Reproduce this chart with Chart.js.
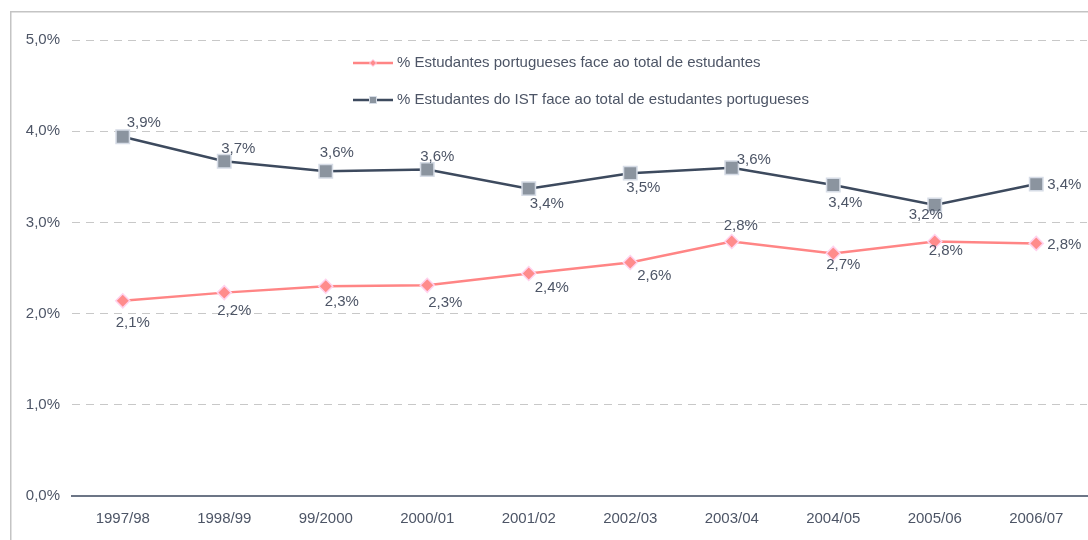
<!DOCTYPE html>
<html>
<head>
<meta charset="utf-8">
<script src="https://cdn.jsdelivr.net/npm/chart.js@4.4.0/dist/chart.umd.min.js"></script>
<style>
  html, body { margin: 0; padding: 0; background: #fff; overflow: hidden; }
  canvas { display: block; }
</style>
</head>
<body>
<canvas id="c" width="1088" height="540"></canvas>
<script>
const categories = ['1997/98', '1998/99', '99/2000', '2000/01', '2001/02', '2002/03', '2003/04', '2004/05', '2005/06', '2006/07'];
const seriesPT = [2.14, 2.23, 2.30, 2.31, 2.44, 2.56, 2.79, 2.66, 2.79, 2.77];
const seriesIST = [3.94, 3.67, 3.56, 3.58, 3.37, 3.54, 3.60, 3.41, 3.19, 3.42];
const seriesNames = ['% Estudantes portugueses face ao total de estudantes', '% Estudantes do IST face ao total de estudantes portugueses'];
const yTicks = [0, 1, 2, 3, 4, 5];

// label placement offsets (dx, dy) from each point
const labelOffsetsPT = [[10,22],[10,18],[16,16],[18,18],[23,14],[24,13],[9,-16],[10,11],[11,9],[28,1]];
const labelOffsetsIST = [[21,-14],[14,-12],[11,-18],[10,-13],[18,15],[13,15],[22,-8],[12,18],[-9,10],[28,1]];

const fmt = v => v.toFixed(1).replace('.', ',') + '%';
const FONT = '"Liberation Sans", Arial, sans-serif';
const TXT = '#4d5566';
const FS = 15;

const framePlugin = {
  id: 'frame',
  beforeDraw(chart) {
    const ctx = chart.ctx;
    ctx.save();
    ctx.strokeStyle = '#c4c4c4';
    ctx.lineWidth = 1.5;
    ctx.beginPath();
    ctx.moveTo(10.75, 540); ctx.lineTo(10.75, 11.75); ctx.lineTo(1088, 11.75);
    ctx.stroke();
    ctx.restore();
  }
};

const labelPlugin = {
  id: 'labels',
  afterDatasetsDraw(chart) {
    const ctx = chart.ctx;
    ctx.save();
    ctx.font = FS + 'px ' + FONT;
    ctx.fillStyle = TXT;
    ctx.textAlign = 'center';
    ctx.textBaseline = 'middle';
    chart.data.datasets.forEach((ds, i) => {
      const meta = chart.getDatasetMeta(i);
      const offs = ds.labelOffsets;
      meta.data.forEach((pt, j) => {
        ctx.fillText(fmt(ds.data[j]), pt.x + offs[j][0], pt.y + offs[j][1]);
      });
    });
    // legend
    const lx = 353, ly = [63, 100];
    chart.data.datasets.forEach((ds, i) => {
      const y = ly[i];
      ctx.strokeStyle = ds.borderColor;
      ctx.lineWidth = 2.5;
      ctx.beginPath(); ctx.moveTo(lx, y); ctx.lineTo(lx + 40, y); ctx.stroke();
      ctx.fillStyle = ds.pointBackgroundColor;
      ctx.strokeStyle = ds.pointBorderColor;
      ctx.lineWidth = 1;
      ctx.beginPath();
      if (i === 0) {
        ctx.moveTo(lx + 20, y - 3.5); ctx.lineTo(lx + 23.5, y); ctx.lineTo(lx + 20, y + 3.5); ctx.lineTo(lx + 16.5, y); ctx.closePath();
      } else {
        ctx.rect(lx + 16.5, y - 3.5, 7, 7);
      }
      ctx.fill(); ctx.stroke();
      ctx.fillStyle = TXT;
      ctx.textAlign = 'left';
      ctx.fillText(ds.label, lx + 44, y);
    });
    ctx.restore();
  }
};

new Chart(document.getElementById('c'), {
  type: 'line',
  data: {
    labels: categories,
    datasets: [
      {
        label: seriesNames[0],
        data: seriesPT,
        labelOffsets: labelOffsetsPT,
        borderColor: '#ff8585',
        borderWidth: 2.5,
        pointStyle: 'rectRot',
        pointRadius: 7,
        pointHoverRadius: 7,
        pointBackgroundColor: '#ff8c8c',
        pointBorderColor: '#ffd2ee',
        pointBorderWidth: 1.5,
        tension: 0,
        fill: false
      },
      {
        label: seriesNames[1],
        data: seriesIST,
        labelOffsets: labelOffsetsIST,
        borderColor: '#3d4a5e',
        borderWidth: 2.5,
        pointStyle: 'rect',
        pointRadius: 9.5,
        pointHoverRadius: 9.5,
        pointBackgroundColor: '#8b949f',
        pointBorderColor: '#d6dce6',
        pointBorderWidth: 1.5,
        tension: 0,
        fill: false
      }
    ]
  },
  options: {
    responsive: false,
    animation: false,
    layout: { autoPadding: false, padding: { top: 40, right: 1, left: 0, bottom: 0 } },
    plugins: { legend: { display: false }, tooltip: { enabled: false } },
    scales: {
      x: {
        offset: true,
        grid: { display: false, drawTicks: false },
        border: { display: true, color: '#6c7586', width: 2 },
        ticks: { color: TXT, font: { family: FONT, size: FS }, padding: 14, maxRotation: 0, autoSkip: false },
        afterFit(s) { s.height = 44; s.paddingLeft = 0; s.paddingRight = 0; }
      },
      y: {
        min: 0, max: 5,
        afterBuildTicks(s) { s.ticks = yTicks.map(v => ({ value: v })); },
        grid: {
          drawTicks: false,
          color: c => c.tick && c.tick.value === 0 ? 'rgba(0,0,0,0)' : '#c8c8c8',
          lineWidth: 1
        },
        border: { display: false, dash: [8, 6] },
        ticks: {
          color: TXT, font: { family: FONT, size: FS }, padding: 12,
          callback: v => v.toFixed(1).replace('.', ',') + '%'
        },
        afterFit(s) { s.width = 72; }
      }
    }
  },
  plugins: [framePlugin, labelPlugin]
});
</script>
</body>
</html>
